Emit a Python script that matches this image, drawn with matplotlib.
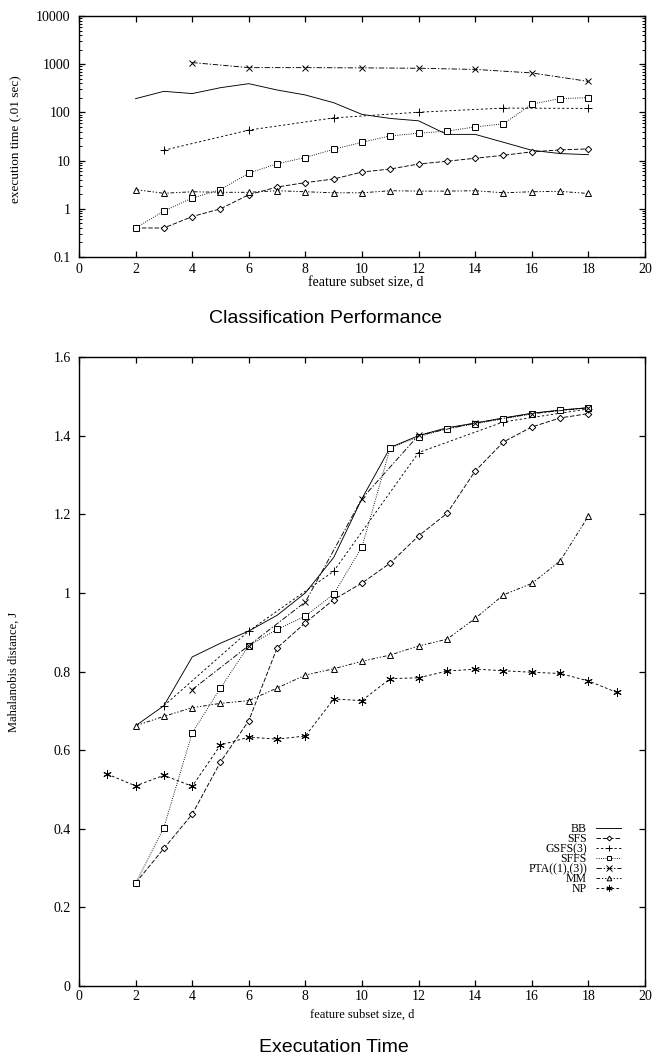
import matplotlib
matplotlib.use("Agg")
import matplotlib.pyplot as plt
from matplotlib.ticker import NullFormatter, LogLocator

plt.rcParams['font.family'] = ['Liberation Serif', 'DejaVu Serif']

# ---- execution time (top panel), in .01 sec ----
d_full = list(range(2, 19))
time_bb = [193, 274, 246, 326, 395, 292, 230, 159, 91, 75, 67, 35, 35, 24, 16.4, 14, 13.3]
time_sfs = [0.4, 0.4, 0.69, 1.0, 1.96, 2.83, 3.5, 4.15, 5.8, 6.7, 8.5, 9.7, 11.2, 12.9, 15.2, 16.7, 17.5]
d_gsfs = [3, 6, 9, 12, 15, 18]
time_gsfs = [16.4, 43, 77, 101, 123, 121]
time_sffs = [0.40, 0.9, 1.67, 2.5, 5.5, 8.6, 11.6, 17.2, 24, 32.6, 37, 41, 50, 58, 149, 193, 203]
d_pta = [4, 6, 8, 10, 12, 14, 16, 18]
time_pta = [1083, 850, 850, 840, 825, 780, 660, 440]
time_mm = [2.5, 2.1, 2.26, 2.2, 2.2, 2.37, 2.26, 2.15, 2.15, 2.37, 2.33, 2.33, 2.37, 2.15, 2.26, 2.3, 2.08]

# ---- Mahalanobis distance (bottom panel) ----
dist_bb = [0.662, 0.713, 0.837, 0.872, 0.903, 0.943, 1.000, 1.090, 1.240, 1.370, 1.400, 1.420,
           1.432, 1.445, 1.457, 1.465, 1.471]
dist_sfs = [0.262, 0.350, 0.437, 0.570, 0.675, 0.860, 0.924, 0.983, 1.025, 1.076, 1.145, 1.202,
            1.310, 1.384, 1.422, 1.445, 1.456]
dist_gsfs = [0.713, 0.903, 1.055, 1.357, 1.435, 1.468]
dist_sffs = [0.261, 0.403, 0.644, 0.758, 0.866, 0.907, 0.941, 0.997, 1.117, 1.369, 1.397, 1.418,
             1.430, 1.443, 1.455, 1.465, 1.471]
dist_pta = [0.754, 0.866, 0.977, 1.240, 1.401, 1.432, 1.456, 1.471]
dist_mm = [0.662, 0.686, 0.708, 0.719, 0.726, 0.758, 0.791, 0.807, 0.826, 0.842, 0.865, 0.882,
           0.935, 0.995, 1.024, 1.081, 1.195]
d_np = list(range(1, 20))
dist_np = [0.539, 0.509, 0.536, 0.508, 0.613, 0.633, 0.628, 0.636, 0.730, 0.726, 0.782, 0.784,
           0.801, 0.806, 0.802, 0.798, 0.795, 0.776, 0.747]

x_ticks = list(range(0, 21, 2))
top_yticks = [0.1, 1, 10, 100, 1000, 10000]
top_ylabels = ['0.1', '1', '10', '100', '1000', '10000']
bot_yticks = [0, 0.2, 0.4, 0.6, 0.8, 1.0, 1.2, 1.4, 1.6]
bot_ylabels = ['0', '0.2', '0.4', '0.6', '0.8', '1', '1.2', '1.4', '1.6']

# line styles per method (gnuplot-ish)
styles = {
    'BB': dict(ls='-', marker=None),
    'SFS': dict(ls=(0, (5, 2)), marker='D', ms=3.3),
    'GSFS(3)': dict(ls=(0, (2.5, 2.5)), marker='+', ms=6),
    'SFFS': dict(ls=(0, (1, 1.5)), marker='s', ms=4.5),
    'PTA((1),(3))': dict(ls=(0, (6, 2, 1.5, 2)), marker='x', ms=5),
    'MM': dict(ls=(0, (4, 2, 1.5, 2, 1.5, 2)), marker='^', ms=4.5),
    'NP': dict(ls=(0, (3, 2.5)), marker=(6, 2, 0), ms=6),
}


def draw(ax, label, x, y):
    st = styles[label]
    ax.plot(x, y, color='black', lw=0.65, ls=st['ls'], marker=st['marker'],
            ms=st.get('ms', 0), mfc='white', mec='black', mew=0.7, label=label)


def frame(ax):
    for s in ax.spines.values():
        s.set_linewidth(1.0)
    ax.tick_params(which='major', direction='in', length=4.5, width=0.9,
                   top=True, right=True, labelsize=10)
    ax.tick_params(which='minor', direction='in', length=2.5, width=0.7,
                   top=True, right=True)


fig = plt.figure(figsize=(6.54, 10.55), dpi=100)

# top panel
ax1 = fig.add_axes([0.1208, 0.7564, 0.8654, 0.2284])
draw(ax1, 'BB', d_full, time_bb)
draw(ax1, 'SFS', d_full, time_sfs)
draw(ax1, 'GSFS(3)', d_gsfs, time_gsfs)
draw(ax1, 'SFFS', d_full, time_sffs)
draw(ax1, 'PTA((1),(3))', d_pta, time_pta)
draw(ax1, 'MM', d_full, time_mm)
ax1.set_yscale('log')
ax1.set_xlim(0, 20)
ax1.set_ylim(0.1, 10000)
ax1.set_xticks(x_ticks)
ax1.set_yticks(top_yticks)
ax1.set_yticklabels(top_ylabels)
ax1.yaxis.set_minor_locator(LogLocator(base=10, subs=range(2, 10)))
ax1.yaxis.set_minor_formatter(NullFormatter())
frame(ax1)
ax1.tick_params(axis='x', pad=4)
ax1.tick_params(axis='y', pad=6)
ax1.set_xlabel('feature subset size, d', fontsize=10, ha='left')
ax1.xaxis.set_label_coords(0.405, -0.078)
ax1.set_ylabel('execution time (.01 sec)', fontsize=9.5)
ax1.yaxis.set_label_coords(-0.1, 0.49)

fig.text(0.497, 0.6938, 'Classification Performance', ha='center', va='baseline',
         fontsize=14, family='Liberation Sans')

# bottom panel
ax2 = fig.add_axes([0.1208, 0.0654, 0.8654, 0.5962])
draw(ax2, 'BB', d_full, dist_bb)
draw(ax2, 'SFS', d_full, dist_sfs)
draw(ax2, 'GSFS(3)', d_gsfs, dist_gsfs)
draw(ax2, 'SFFS', d_full, dist_sffs)
draw(ax2, 'PTA((1),(3))', d_pta, dist_pta)
draw(ax2, 'MM', d_full, dist_mm)
draw(ax2, 'NP', d_np, dist_np)
ax2.set_xlim(0, 20)
ax2.set_ylim(0, 1.6)
ax2.set_xticks(x_ticks)
ax2.set_yticks(bot_yticks)
ax2.set_yticklabels(bot_ylabels)
frame(ax2)
ax2.tick_params(axis='x', pad=3)
ax2.tick_params(axis='y', pad=6)
ax2.set_xlabel('feature subset size, d', fontsize=9, ha='center')
ax2.xaxis.set_label_coords(0.5, -0.036)
ax2.set_ylabel('Mahalanobis distance, J', fontsize=9)
ax2.yaxis.set_label_coords(-0.105, 0.5)

ax2.legend(loc='center right', bbox_to_anchor=(0.958, 0.202), frameon=False,
           markerfirst=False, fontsize=8.5, handlelength=2.1, handletextpad=0.8,
           labelspacing=-0.17, borderpad=0, borderaxespad=0, markerscale=0.75)

fig.text(0.51, 0.003, 'Executation Time', ha='center', va='baseline',
         fontsize=14, family='Liberation Sans')

fig.savefig('out.png', dpi=100)
